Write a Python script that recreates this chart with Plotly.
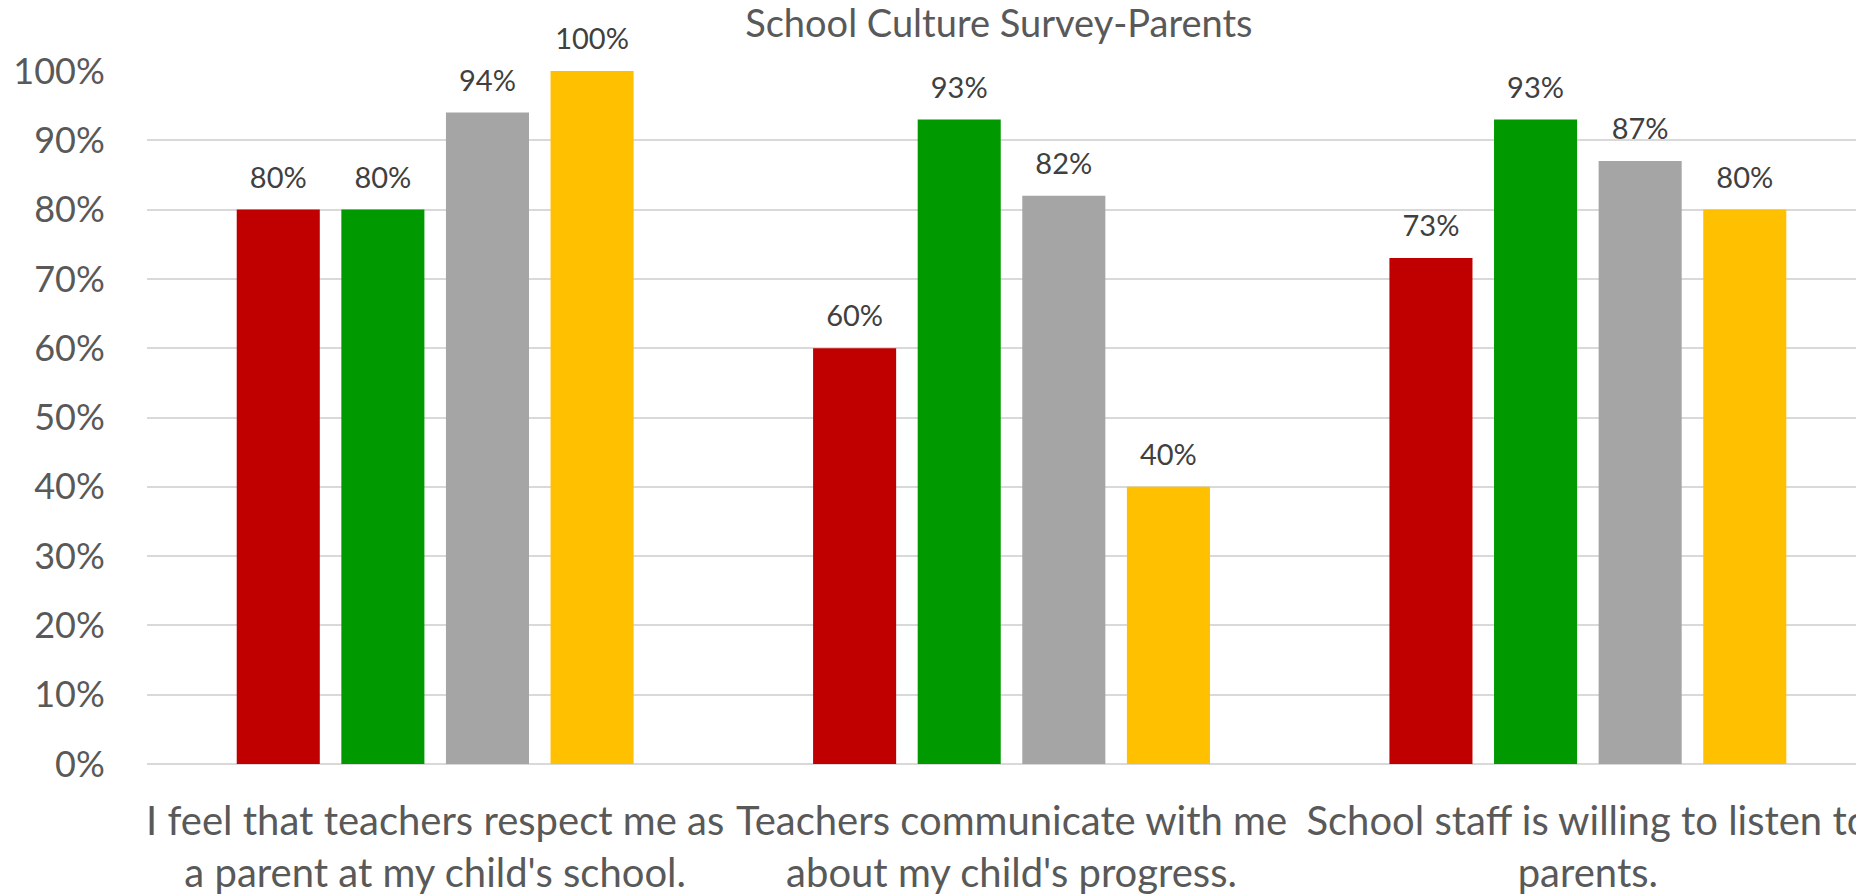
import plotly.graph_objects as go

categories = [
    "I feel that teachers respect me as<br>a parent at my child's school.",
    "Teachers communicate with me<br>about my child's progress.",
    "School staff is willing to listen to<br>parents.",
]
series_names = ["Series 1", "Series 2", "Series 3", "Series 4"]
series_values = [
    [0.80, 0.60, 0.73],
    [0.80, 0.93, 0.93],
    [0.94, 0.82, 0.87],
    [1.00, 0.40, 0.80],
]
series_colors = ["#C00000", "#009900", "#A5A5A5", "#FFC000"]
y_tickvals = [0, 0.1, 0.2, 0.3, 0.4, 0.5, 0.6, 0.7, 0.8, 0.9, 1.0]
y_ticktext = ["0%", "10%", "20%", "30%", "40%", "50%", "60%", "70%", "80%", "90%", "100%"]

FONT = "Lato, 'Open Sans', sans-serif"
GAP = 0.274

fig = go.Figure()
for name, vals, col in zip(series_names, series_values, series_colors):
    fig.add_trace(go.Bar(
        name=name, x=categories, y=vals, marker_color=col, marker_line_width=0,
        hoverinfo="skip",
    ))
for name, vals in zip(series_names, series_values):
    fig.add_trace(go.Scatter(
        name=name + " labels", x=categories, y=vals, mode="markers+text",
        marker=dict(size=22, opacity=0),
        text=[f"{round(v*100)}%" for v in vals], textposition="top center",
        textfont=dict(family=FONT, size=29, color="#404040"),
        cliponaxis=False, hoverinfo="skip",
    ))

fig.update_layout(
    width=1864, height=894,
    paper_bgcolor="white", plot_bgcolor="white",
    margin=dict(l=139, r=0, t=63, b=138, autoexpand=False),
    barmode="group", bargap=GAP, bargroupgap=0.206,
    scattermode="group", scattergap=GAP,
    showlegend=False,
    title=dict(text="School Culture Survey-Parents", xref="container", x=0.5316,
               xanchor="center", yref="container", y=0.982, yanchor="middle",
               font=dict(family=FONT, size=38, color="#595959")),
    font=dict(family=FONT, color="#595959"),
)
fig.update_xaxes(range=[-0.5, 2.493], showgrid=False, showline=False,
                 automargin=False, tickangle=0,
                 ticks="outside", ticklen=22, tickcolor="rgba(0,0,0,0)",
                 tickfont=dict(family=FONT, size=40, color="#595959"))
fig.update_yaxes(range=[0, 1], tickvals=y_tickvals, ticktext=y_ticktext,
                 automargin=False,
                 showgrid=True, gridcolor="#D9D9D9", gridwidth=2,
                 zeroline=True, zerolinecolor="#D9D9D9", zerolinewidth=2,
                 ticks="outside", ticklen=34, tickcolor="rgba(0,0,0,0)",
                 tickfont=dict(family=FONT, size=36, color="#595959"))

fig.write_html("out.html")
